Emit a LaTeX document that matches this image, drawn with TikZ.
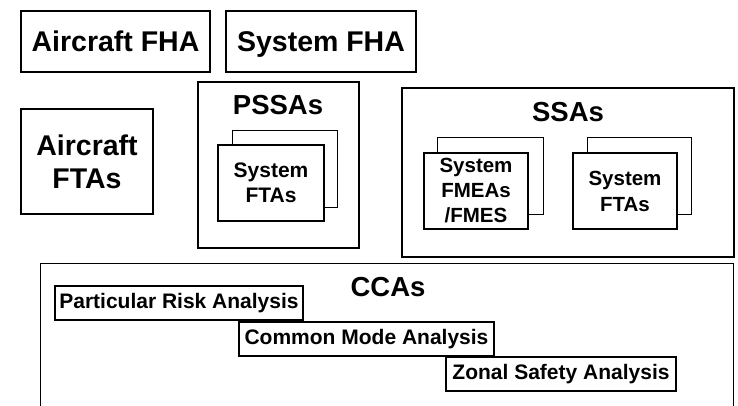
\documentclass[tikz,border=0pt]{standalone}
\usepackage{fontspec}
\setmainfont{Liberation Sans}
\begin{document}
\begin{tikzpicture}[x=1pt,y=-1pt,
  bigbox/.style={draw, line width=2.6pt, inner sep=0pt, align=center,
    font=\bfseries\fontsize{28.5}{33}\selectfont},
  oneline/.style={text height=21pt, text depth=0pt},
  outerbox/.style={draw, line width=2.6pt, inner sep=0pt},
  title/.style={inner sep=0pt, font=\bfseries\fontsize{27.5}{32}\selectfont},
  backbox/.style={draw, line width=1.3pt, fill=white, inner sep=0pt},
  frontbox/.style={draw, line width=2.6pt, fill=white, inner sep=0pt, align=center,
    font=\bfseries\fontsize{21}{24.5}\selectfont},
  ccabox/.style={draw, line width=2.3pt, fill=white, inner sep=0pt,
    minimum height=34pt, font=\bfseries\fontsize{21}{24}\selectfont}]
\useasboundingbox[fill=white] (0,0) rectangle (738,406);
% top row
\node[bigbox, oneline, minimum width=189pt, minimum height=61pt] (afha) at (115.5,41.5) {Aircraft FHA};
\node[bigbox, oneline, minimum width=190pt, minimum height=61pt] (sfha) at (321,41.5) {System FHA};
\node[bigbox, minimum width=132pt, minimum height=105pt] (aftas) at (87,161.5) {Aircraft\\FTAs};
% PSSAs
\node[outerbox, minimum width=161pt, minimum height=166pt] (pssa) at (278.5,165) {};
\node[title] (pssat) at (278,105) {PSSAs};
\node[backbox, minimum width=105pt, minimum height=77pt] (pback) at (285,169) {};
\node[frontbox, minimum width=106pt, minimum height=76pt] (pfront) at (271,183) {System\\FTAs};
% SSAs
\node[outerbox, minimum width=332pt, minimum height=169pt] (ssa) at (568,172.5) {};
\node[title] (ssat) at (568,112) {SSAs};
\node[backbox, minimum width=106pt, minimum height=77pt] (fback) at (490.5,176) {};
\node[frontbox, minimum width=104pt, minimum height=76pt,
  font=\bfseries\fontsize{20.5}{25}\selectfont] (ffront) at (476,191) {System\\FMEAs\\/FMES};
\node[backbox, minimum width=104pt, minimum height=77pt] (tback) at (639.5,176) {};
\node[frontbox, minimum width=104pt, minimum height=76pt,
  font=\bfseries\fontsize{20.5}{26}\selectfont] (tfront) at (625,191) {System\\FTAs};
% CCAs
\node[minimum width=692pt, minimum height=160pt, inner sep=0pt] (cca) at (387,344) {};
\draw[line width=1.3pt] (cca.south west) |- (cca.north east) -- (cca.south east);
\node[title] (ccat) at (388,287) {CCAs};
\node[ccabox, minimum width=248pt] (pra) at (179,303) {Particular Risk Analysis};
\node[ccabox, minimum width=255pt] (cma) at (366.5,339) {Common Mode Analysis};
\node[ccabox, minimum width=230pt] (zsa) at (561,374) {Zonal Safety Analysis};
\end{tikzpicture}
\end{document}
